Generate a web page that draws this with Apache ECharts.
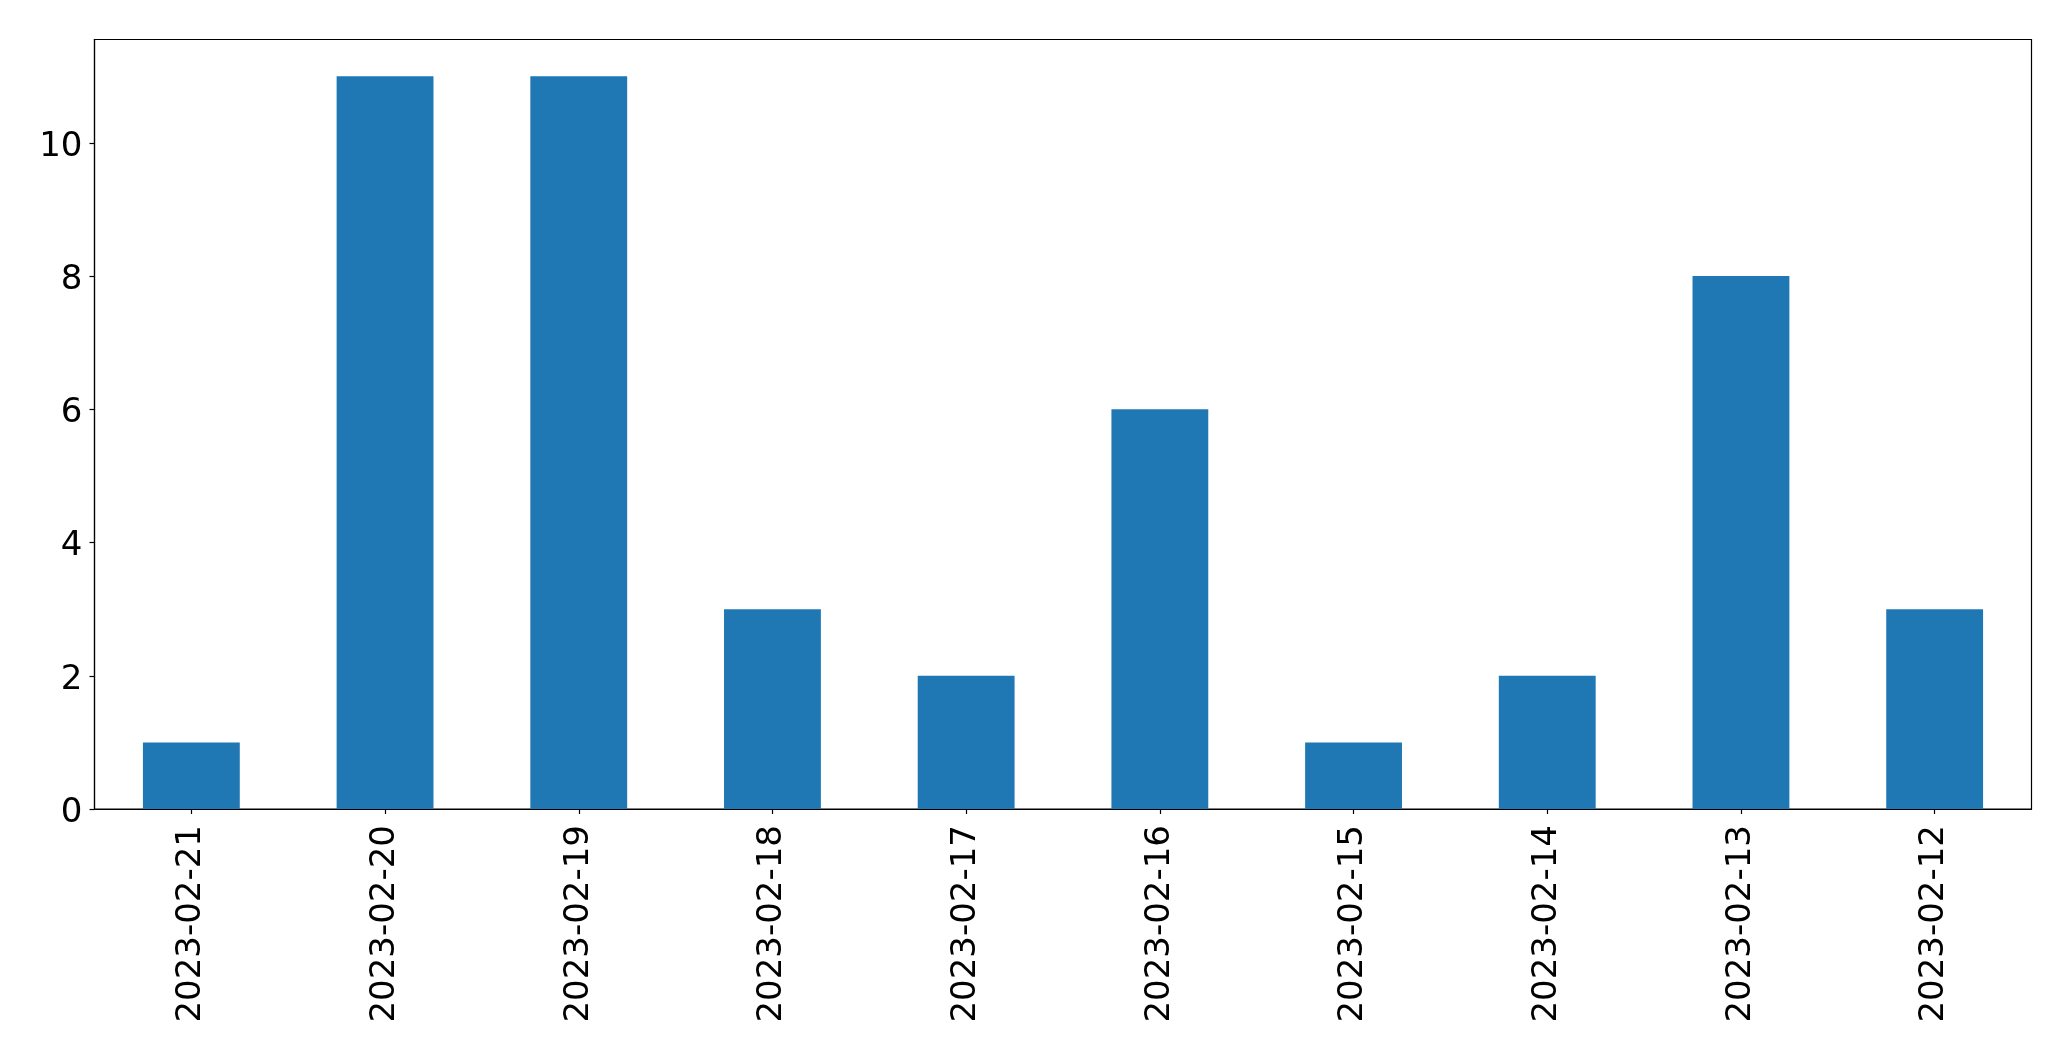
<!DOCTYPE html>
<html>
<head>
<meta charset="utf-8">
<script src="https://cdn.jsdelivr.net/npm/echarts@6/dist/echarts.min.js"></script>
<style>
html,body{margin:0;padding:0;background:#fff;}
#c{width:2071px;height:1061px;}
</style>
</head>
<body>
<div id="c"></div>
<script>
const categories = ["2023-02-21","2023-02-20","2023-02-19","2023-02-18","2023-02-17","2023-02-16","2023-02-15","2023-02-14","2023-02-13","2023-02-12"];
const values = [1, 11, 11, 3, 2, 6, 1, 2, 8, 3];
const yTicks = [0, 2, 4, 6, 8, 10];

const chart = echarts.init(document.getElementById('c'), null, {renderer: 'canvas'});
const font = 'DejaVu Sans';
chart.setOption({
  animation: false,
  backgroundColor: '#ffffff',
  grid: {
    left: 94.5, right: 39.5, top: 39.5, bottom: 252,
    show: true, borderColor: '#000', borderWidth: 1.2, backgroundColor: 'transparent'
  },
  xAxis: {
    type: 'category',
    data: categories,
    boundaryGap: true,
    axisLine: {show: true, lineStyle: {color: '#000', width: 1.2}},
    axisTick: {show: true, alignWithLabel: true, length: 5, lineStyle: {color: '#000', width: 1.2}},
    axisLabel: {rotate: 90, margin: 16, color: '#000', fontSize: 34, fontFamily: font, interval: 0},
    splitLine: {show: false}
  },
  yAxis: {
    type: 'value',
    min: 0, max: 11.55, interval: 2,
    axisLine: {show: true, lineStyle: {color: '#000', width: 1.2}},
    axisTick: {show: true, length: 5, customValues: yTicks, lineStyle: {color: '#000', width: 1.2}},
    axisLabel: {
      margin: 12, color: '#000', fontSize: 34, fontFamily: font, customValues: yTicks,
      formatter: v => '{a|' + v + '}',
      rich: {a: {fontSize: 34, fontFamily: font, color: '#000', padding: [8, 0, 0, 0]}}
    },
    splitLine: {show: false}
  },
  series: [{
    type: 'bar',
    data: values,
    barCategoryGap: '50%',
    itemStyle: {color: '#1f77b4'}
  }]
});
</script>
</body>
</html>
